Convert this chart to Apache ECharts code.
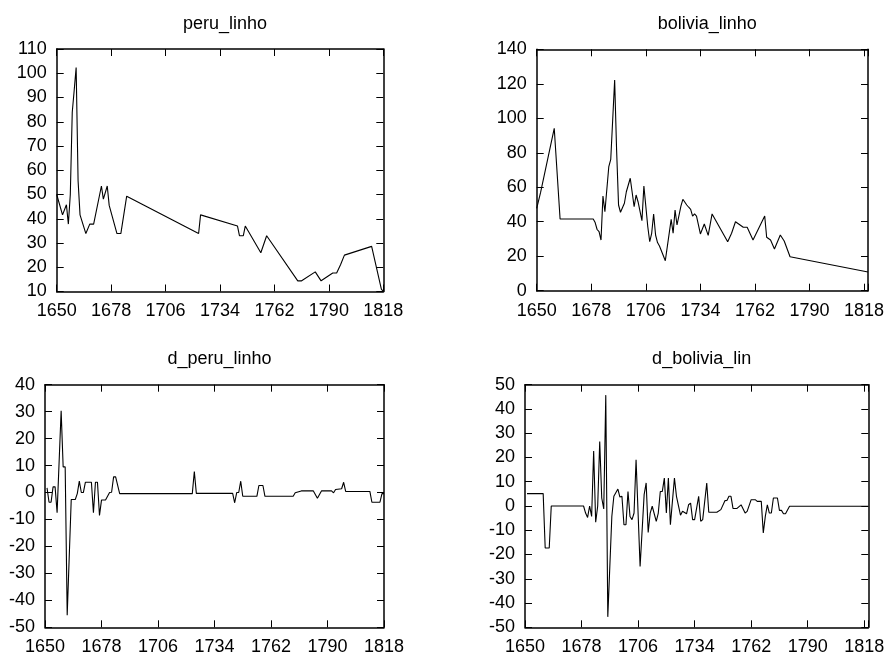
<!DOCTYPE html>
<html>
<head>
<meta charset="utf-8">
<script src="https://cdn.jsdelivr.net/npm/echarts@6/dist/echarts.min.js"></script>
<style>
html,body{margin:0;padding:0;background:#fff;}
#c{width:888px;height:657px;}
</style>
</head>
<body>
<div id="c"></div>
<script>
// ---- data ----
const panelTitles = ['peru_linho', 'bolivia_linho', 'd_peru_linho', 'd_bolivia_lin'];
const xTickLabels = [1650, 1678, 1706, 1734, 1762, 1790, 1818];

const peruLinhoYears = [1650,1653,1655,1656,1657,1658,1659,1660,1661,1662,1665,1667,1669,1673,1674,1676,1677,1681,1683,1686,1687,1723,1724,1743,1744,1746,1747,1755,1758,1774,1776,1783,1786,1792,1794,1796,1798,1812,1817,1818];
const peruLinhoValues = [50,41.6,45.8,37.8,50,83.9,93,102.4,55.7,41.6,33.9,37.8,37.8,53.5,48.1,53.5,45.5,33.9,33.9,49.3,49.3,33.9,41.6,37.0,33.0,33.0,37.0,26.0,33.0,14.4,14.4,18.1,14.4,17.6,17.6,21.0,25.0,28.6,11.0,10.0];

const boliviaLinhoYears = [1650,1652,1659,1662,1679,1680,1681,1682,1683,1684,1685,1686,1687,1688,1689,1690,1691,1692,1693,1694,1695,1696,1698,1700,1701,1702,1704,1705,1706,1707,1708,1709,1710,1711,1712,1713,1714,1716,1719,1720,1721,1722,1723,1724,1725,1726,1727,1728,1729,1730,1731,1732,1734,1736,1738,1740,1748,1750,1752,1756,1758,1761,1767,1768,1770,1772,1775,1777,1780,1820];
const boliviaLinhoValues = [47.8,57,94.2,41.6,41.6,39.5,35.5,34.2,29.4,54.9,45.8,45.3,72,76.2,76.2,122.2,81.6,49.7,45.5,45.5,50.7,57.4,65.2,48.7,55.5,51.6,40.6,60.7,60.7,37.1,28.4,33.3,44.5,32.3,27.9,25.9,25.5,17.4,41.4,33.3,46.8,38.1,38.1,49.1,53,53,49.7,48.4,47.2,43.3,44.5,43.3,32.9,38.7,32.1,44.5,28.4,33.3,40.0,36.8,36.8,29.4,43.3,31,29.4,24.2,32.3,28.8,19.7,10.8];

const dPeruYears = [1651,1652,1653,1654,1655,1656,1658,1659,1660,1661,1663,1665,1666,1667,1668,1669,1670,1673,1674,1675,1676,1677,1678,1680,1682,1683,1684,1685,1687,1723,1724,1725,1743,1744,1745,1746,1747,1748,1755,1756,1758,1759,1773,1774,1777,1783,1785,1787,1792,1793,1794,1797,1798,1799,1811,1812,1816,1817,1818];
const dPeruValues = [1.7,-3.6,-3.6,2.1,2.1,-7.5,30.3,9.5,9.5,-45.5,-2.6,-2.6,-0.4,4.2,0,0,3.8,3.8,-7.5,3.8,3.8,-8.5,-2.8,-2.8,0,0.1,5.8,5.8,-0.4,-0.4,7.8,-0.3,-0.3,-3.8,0,0,4.2,-1.4,-1.4,2.6,2.6,-1.4,-1.4,-0.1,0.6,0.6,-2.1,0.6,0.6,-0.1,1.1,1.4,3.8,0.4,0.4,-3.6,-3.6,-0.4,-0.4];

const dBoliviaYears = [1651,1659,1660,1662,1663,1679,1680,1681,1682,1683,1684,1685,1686,1687,1688,1689,1690,1691,1693,1694,1696,1697,1698,1699,1700,1701,1702,1703,1704,1705,1707,1709,1710,1711,1712,1713,1715,1716,1717,1718,1719,1720,1721,1722,1724,1725,1727,1728,1730,1731,1732,1733,1734,1736,1737,1738,1740,1741,1745,1747,1749,1750,1751,1752,1753,1755,1757,1759,1760,1762,1764,1765,1767,1768,1769,1770,1771,1772,1773,1775,1776,1777,1778,1779,1781,1820];
const dBoliviaValues = [5.1,5.1,-17.3,-17.3,0,0,-2.9,-4.7,0,-4.3,22.7,-6.7,0,26.6,3.3,-1.2,45.7,-45.7,-4.3,4.0,7.0,3.7,4.0,-7.7,-7.7,6.0,-4.3,-5.6,-2.9,19.1,-24.9,4.7,9.5,-10.9,-2.9,-0.1,-6.3,-2.9,6.0,6.0,11.5,-2.9,11.5,-7.7,11.5,4.0,-3.8,-2.2,-3.2,0.5,1.2,-5.6,-5.6,4.0,-6.3,-5.6,9.5,-2.6,-2.6,-1.5,2.2,2.3,4.0,4.0,-1.0,-1.0,0.5,-2.9,-2.2,2.6,2.6,1.9,1.9,-11.1,-4.3,0.5,-2.9,-2.9,3.3,3.3,-1.8,-1.8,-3.2,-3.2,-0.1,-0.1];

// ---- layout ----
const FONT = 'Liberation Sans, Arial, sans-serif';
const FS = 18;
const grids = [
  {left: 56.7, top: 49, width: 326.6, height: 242.5},
  {left: 536.7, top: 49.3, width: 331.3, height: 241.4},
  {left: 45, top: 384.7, width: 339, height: 242.6},
  {left: 525, top: 384.7, width: 343.3, height: 242.6}
];
const xMaxes = [1818, 1820, 1818, 1820];
const yRanges = [[10,110,10],[0,140,20],[-50,40,10],[-50,50,10]];
const seriesData = [
  [peruLinhoYears, peruLinhoValues],
  [boliviaLinhoYears, boliviaLinhoValues],
  [dPeruYears, dPeruValues],
  [dBoliviaYears, dBoliviaValues]
];

const zip = (a, b) => a.map((v, i) => [v, b[i]]);
const lineSty = {color: '#000', width: 1.5};
const xAxes = [], yAxes = [], series = [], titles = [];

grids.forEach((g, i) => {
  ['bottom','top'].forEach(pos => {
    xAxes.push({
      gridIndex: i, type: 'value', position: pos,
      min: 1650, max: xMaxes[i], interval: 28,
      axisLine: {show: true, onZero: false, lineStyle: lineSty},
      axisTick: {show: true, inside: true, length: 7, lineStyle: {color: '#000', width: 1}},
      axisLabel: {
        show: pos === 'bottom', color: '#000', fontSize: FS, fontFamily: FONT, margin: 11,
        formatter: v => xTickLabels.indexOf(v) >= 0 ? String(v) : ''
      },
      splitLine: {show: false}
    });
  });
  const [ymin, ymax, yint] = yRanges[i];
  ['left','right'].forEach(pos => {
    yAxes.push({
      gridIndex: i, type: 'value', position: pos,
      min: ymin, max: ymax, interval: yint,
      axisLine: {show: true, onZero: false, lineStyle: lineSty},
      axisTick: {show: true, inside: true, length: 7, lineStyle: {color: '#000', width: 1}},
      axisLabel: {show: pos === 'left', color: '#000', fontSize: FS, fontFamily: FONT, margin: 10},
      splitLine: {show: false}
    });
  });
  series.push({
    type: 'line', xAxisIndex: 2*i, yAxisIndex: 2*i,
    data: zip(seriesData[i][0], seriesData[i][1]),
    showSymbol: false, symbol: 'none', clip: true,
    lineStyle: {color: '#000', width: 1.1}
  });
  titles.push({
    text: panelTitles[i],
    left: g.left + g.width / 2, top: i < 2 ? 10 : 345,
    textAlign: 'center',
    textStyle: {color: '#000', fontSize: FS, fontWeight: 'normal', fontFamily: FONT}
  });
});

const chart = echarts.init(document.getElementById('c'), null, {renderer: 'canvas'});
chart.setOption({
  animation: false,
  backgroundColor: '#fff',
  title: titles,
  grid: grids.map(g => Object.assign({containLabel: false}, g)),
  xAxis: xAxes,
  yAxis: yAxes,
  series: series
});
</script>
</body>
</html>
